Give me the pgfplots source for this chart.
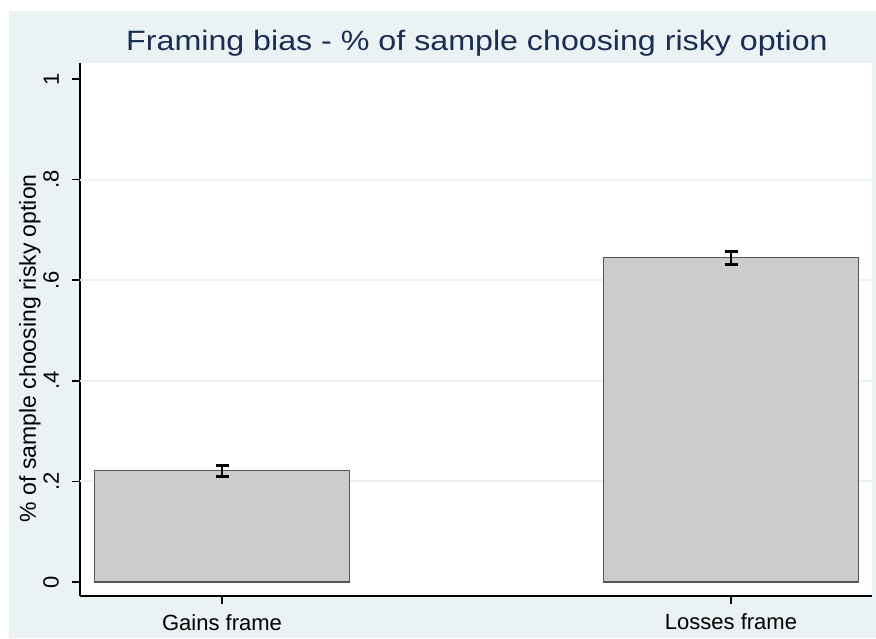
\documentclass[border=0pt]{standalone}
\usepackage{pgfplots}
\pgfplotsset{compat=1.18}
\usepackage{pgfplotstable}
\usepackage{fontspec}
\setmainfont{Liberation Sans}
\definecolor{bgcol}{RGB}{234,242,243}
\definecolor{gridcol}{RGB}{234,242,243}
\definecolor{titlecol}{RGB}{28,45,85}
\definecolor{barfill}{RGB}{204,204,204}
\definecolor{barline}{RGB}{85,85,85}
\pgfplotstableread{
x y ep em
0 0.221 0.011 0.012
1 0.645 0.013 0.014
}\data
\begin{document}
\begin{tikzpicture}
\path (0,0) rectangle (438pt,319pt);
\fill[bgcol] (4.5pt,0pt) rectangle (438pt,313.5pt);
\fill[white] (40pt,21pt) rectangle (436pt,287.5pt);
\begin{axis}[
  at={(40pt,21pt)}, anchor=south west,
  scale only axis, width=396pt, height=266.5pt,
  xmin=-0.279, xmax=1.277, ymin=-0.0278, ymax=1.0318,
  axis lines*=left,
  axis line style={-, black, line width=0.75pt},
  tick style={black, line width=0.75pt},
  major tick length=4pt,
  tick align=outside,
  xtick={0,1}, xticklabels={Gains frame, Losses frame},
  ytick={0,0.2,0.4,0.6,0.8,1}, yticklabels={0,.2,.4,.6,.8,1},
  extra y ticks={0.2,0.4,0.6,0.8},
  extra y tick labels={},
  extra y tick style={ymajorgrids=true, major tick length=0pt},
  major grid style={draw=gridcol, line width=1pt},
  /pgf/number format/assume math mode=true,
  tick label style={font=\fontsize{11}{13}\selectfont},
  yticklabel style={rotate=90, anchor=south},
  yticklabel shift=3pt,
  xticklabel shift=1.5pt,
  ylabel={\% of sample choosing risky option},
  every axis y label/.style={at={(rel axis cs:0,0.465)}, xshift=-25pt, rotate=90, anchor=center, font=\fontsize{11.5}{13}\selectfont},
  clip=false,
]
\addplot[ybar, bar width=0.5, fill=barfill, draw=barline, line width=0.6pt,
  error bars/.cd, y dir=both, y explicit,
  error bar style={black, line width=1.2pt},
  error mark options={black, rotate=90, mark size=3.25pt, line width=1.5pt}]
  table[x=x, y=y, y error plus=ep, y error minus=em]{\data};
\end{axis}
\node[anchor=base, text=titlecol] at (238.5pt,293.5pt) {\scalebox{1.15}[1]{\fontsize{14}{16}\selectfont Framing bias - \% of sample choosing risky option}};
\end{tikzpicture}
\end{document}
